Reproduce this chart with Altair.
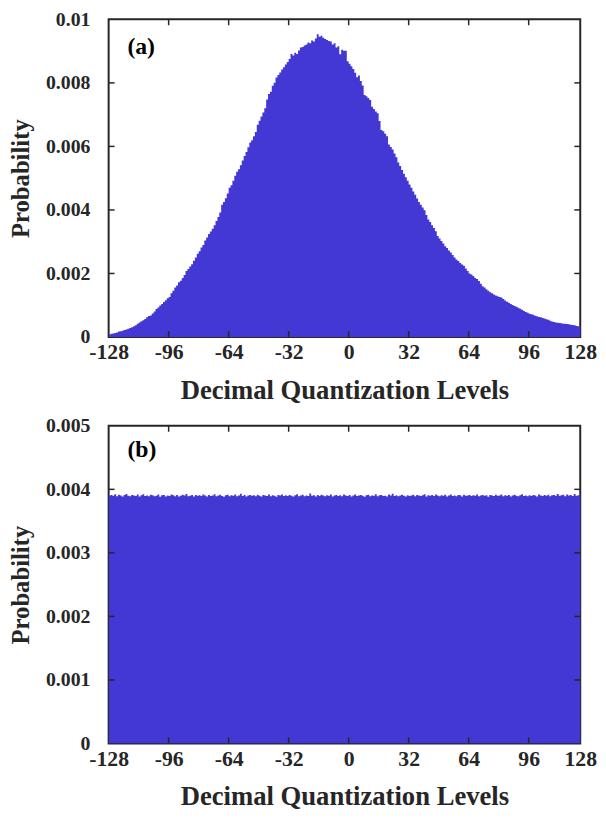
import altair as alt
import pandas as pd

# Panel (a): probability (x1e-5) for levels -128..127
prob_a_e5 = [
    8, 10, 11, 13, 14, 17, 18, 20, 22, 24, 26, 28, 31, 34, 37, 42,
    46, 50, 53, 57, 62, 66, 68, 74, 80, 88, 93, 99, 104, 110, 116, 122,
    126, 138, 146, 156, 162, 172, 177, 186, 195, 208, 214, 222, 229, 240, 250, 262,
    270, 282, 290, 304, 313, 324, 332, 341, 352, 365, 378, 392, 416, 425, 437, 452,
    470, 478, 492, 508, 520, 528, 541, 556, 570, 582, 597, 612, 619, 632, 645, 668,
    681, 694, 707, 720, 748, 765, 772, 791, 800, 817, 825, 833, 842, 849, 858, 866,
    875, 891, 886, 895, 891, 902, 911, 913, 918, 921, 927, 925, 933, 930, 940, 953,
    945, 948, 942, 938, 935, 932, 930, 921, 925, 911, 915, 890, 904, 901, 901, 868,
    860, 852, 844, 832, 818, 823, 806, 792, 762, 758, 752, 746, 725, 718, 710, 704,
    680, 652, 648, 640, 632, 606, 598, 590, 578, 566, 549, 538, 526, 514, 503, 492,
    480, 470, 458, 448, 436, 425, 416, 408, 399, 384, 370, 362, 352, 343, 333, 318,
    310, 302, 294, 286, 280, 272, 266, 258, 250, 244, 239, 233, 228, 224, 216, 208,
    200, 197, 192, 186, 183, 176, 168, 160, 156, 150, 146, 141, 138, 134, 131, 128,
    126, 124, 120, 115, 111, 108, 104, 101, 98, 95, 92, 89, 86, 82, 79, 76,
    73, 72, 70, 67, 65, 63, 62, 60, 58, 56, 54, 51, 49, 47, 46, 45,
    44, 43, 42, 42, 41, 40, 39, 38, 37, 35, 34, 32, 31, 30, 29, 28,
]

# Panel (b): probability (x1e-6) for levels -128..127
prob_b_e6 = [
    3905, 3912, 3898, 3921, 3893, 3915, 3902, 3887, 3910, 3926, 3899, 3891, 3913, 3904, 3895, 3918,
    3886, 3909, 3921, 3897, 3903, 3890, 3914, 3908, 3893, 3899, 3917, 3884, 3906, 3911, 3889, 3902,
    3896, 3920, 3907, 3893, 3912, 3888, 3899, 3915, 3904, 3927, 3892, 3901, 3910, 3886, 3913, 3898,
    3908, 3894, 3919, 3903, 3889, 3911, 3896, 3905, 3921, 3890, 3902, 3914, 3897, 3885, 3909, 3916,
    3893, 3906, 3900, 3918, 3891, 3904, 3929, 3895, 3910, 3887, 3903, 3912, 3898, 3907, 3890, 3915,
    3901, 3888, 3913, 3905, 3896, 3920, 3892, 3909, 3899, 3884, 3911, 3903, 3917, 3894, 3906, 3897,
    3912, 3899, 3887, 3908, 3922, 3893, 3905, 3914, 3890, 3902, 3896, 3935, 3898, 3907, 3889, 3911,
    3895, 3916, 3903, 3892, 3909, 3900, 3918, 3886, 3904, 3913, 3897, 3908, 3891, 3920, 3902, 3894,
    3910, 3888, 3905, 3919, 3896, 3903, 3912, 3899, 3885, 3907, 3915, 3892, 3904, 3898, 3921, 3890,
    3906, 3913, 3894, 3901, 3888, 3917, 3903, 3930, 3896, 3909, 3891, 3905, 3914, 3899, 3887, 3908,
    3897, 3904, 3916, 3890, 3911, 3902, 3894, 3908, 3922, 3889, 3906, 3900, 3913, 3895, 3918, 3903,
    3891, 3909, 3899, 3914, 3886, 3905, 3920, 3897, 3902, 3893, 3911, 3907, 3888, 3916, 3900, 3904,
    3912, 3895, 3908, 3901, 3919, 3890, 3903, 3913, 3898, 3907, 3885, 3910, 3902, 3896, 3914, 3899,
    3903, 3917, 3892, 3906, 3898, 3911, 3889, 3904, 3915, 3900, 3893, 3908, 3921, 3897, 3905, 3890,
    3909, 3896, 3913, 3902, 3887, 3918, 3905, 3894, 3910, 3899, 3916, 3891, 3906, 3912, 3901, 3925,
    3898, 3907, 3914, 3893, 3920, 3903, 3911, 3896, 3928, 3901, 3908, 3894, 3915, 3905, 3912, 3900,
]

levels = list(range(-128, 128))
x_ticks = [-128, -96, -64, -32, 0, 32, 64, 96, 123.5]
x_inner_ticks = [-96, -64, -32, 0, 32, 64, 96]
y_ticks_a = [0, 0.002, 0.004, 0.006, 0.008, 0.01]
y_ticks_b = [0, 0.001, 0.002, 0.003, 0.004, 0.005]

X_TITLE = "Decimal Quantization Levels"
Y_TITLE = "Probability"
X_DOMAIN = [-128, 123.5]
W, H = 478, 322
BLUE = "#4438d4"
INK = "#262626"
FONT = "Liberation Serif"


def panel(values, scale, ymax, yticks, tag, tag_y):
    # step outline: each bin starts at its level; closing edge at 128 repeats the last bin
    edges = levels + [128]
    probs = [v * scale for v in values]
    df = pd.DataFrame({"lo": edges, "p": probs + [probs[-1]]})
    xscale = alt.Scale(domain=X_DOMAIN, nice=False, zero=False)
    yscale = alt.Scale(domain=[0, ymax], nice=False, zero=True)
    xaxis = alt.Axis(
        values=x_ticks, ticks=False, domain=False, grid=False,
        labelExpr="datum.value > 100 ? '128' : (datum.value < 0 ? '-' + abs(datum.value) : '' + datum.value)",
        labelFlush=False, labelOverlap=False, labelPadding=5, labelFontSize=22,
        title=X_TITLE, titlePadding=15, titleFontSize=27,
    )
    yaxis = alt.Axis(
        values=yticks, ticks=False, domain=False, grid=False,
        labelExpr="datum.value == 0 ? '0' : format(datum.value, '.3~f')",
        labelFlush=False, labelOverlap=False, labelPadding=19,
        title=Y_TITLE, titlePadding=12, titleFontSize=25,
    )
    area = alt.Chart(df).mark_area(color=BLUE, interpolate="step-after", clip=True, opacity=1).encode(
        x=alt.X("lo:Q", scale=xscale, axis=xaxis),
        y=alt.Y("p:Q", scale=yscale, axis=yaxis),
    )
    xt = pd.DataFrame({"v": x_inner_ticks})
    yt = pd.DataFrame({"v": [t for t in yticks if 0 < t < ymax]})
    tb = alt.Chart(xt).mark_rule(color=INK, strokeWidth=1.5).encode(
        x=alt.X("v:Q", title=X_TITLE), y=alt.value(H), y2=alt.value(H - 6))
    tt = alt.Chart(xt).mark_rule(color=INK, strokeWidth=1.5).encode(
        x=alt.X("v:Q", title=X_TITLE), y=alt.value(0), y2=alt.value(6))
    tl = alt.Chart(yt).mark_rule(color=INK, strokeWidth=1.5).encode(
        y=alt.Y("v:Q", title=Y_TITLE), x=alt.value(0), x2=alt.value(6))
    tr = alt.Chart(yt).mark_rule(color=INK, strokeWidth=1.5).encode(
        y=alt.Y("v:Q", title=Y_TITLE), x=alt.value(W - 6), x2=alt.value(W))
    label = alt.Chart(pd.DataFrame({"t": [tag]})).mark_text(
        font=FONT, fontSize=24, fontWeight="bold", color="black", align="left", baseline="middle"
    ).encode(text="t:N", x=alt.value(19), y=alt.value(tag_y))
    return alt.layer(area, tb, tt, tl, tr, label).properties(width=W, height=H)


top = panel(prob_a_e5, 1e-5, 0.01, y_ticks_a, "(a)", 28)
bottom = panel(prob_b_e6, 1e-6, 0.005, y_ticks_b, "(b)", 25)

chart = alt.vconcat(top, bottom, spacing=11).properties(
    padding={"left": 0, "top": -5, "right": 0, "bottom": 0},
    background="white",
).configure_view(
    stroke=INK, strokeWidth=2
).configure_axis(
    labelFont=FONT, labelFontSize=20, labelFontWeight="bold", labelColor=INK,
    titleFont=FONT, titleFontSize=24, titleFontWeight="bold", titleColor=INK,
)

chart.save("out.html", embed_options={"renderer": "svg", "actions": False})
